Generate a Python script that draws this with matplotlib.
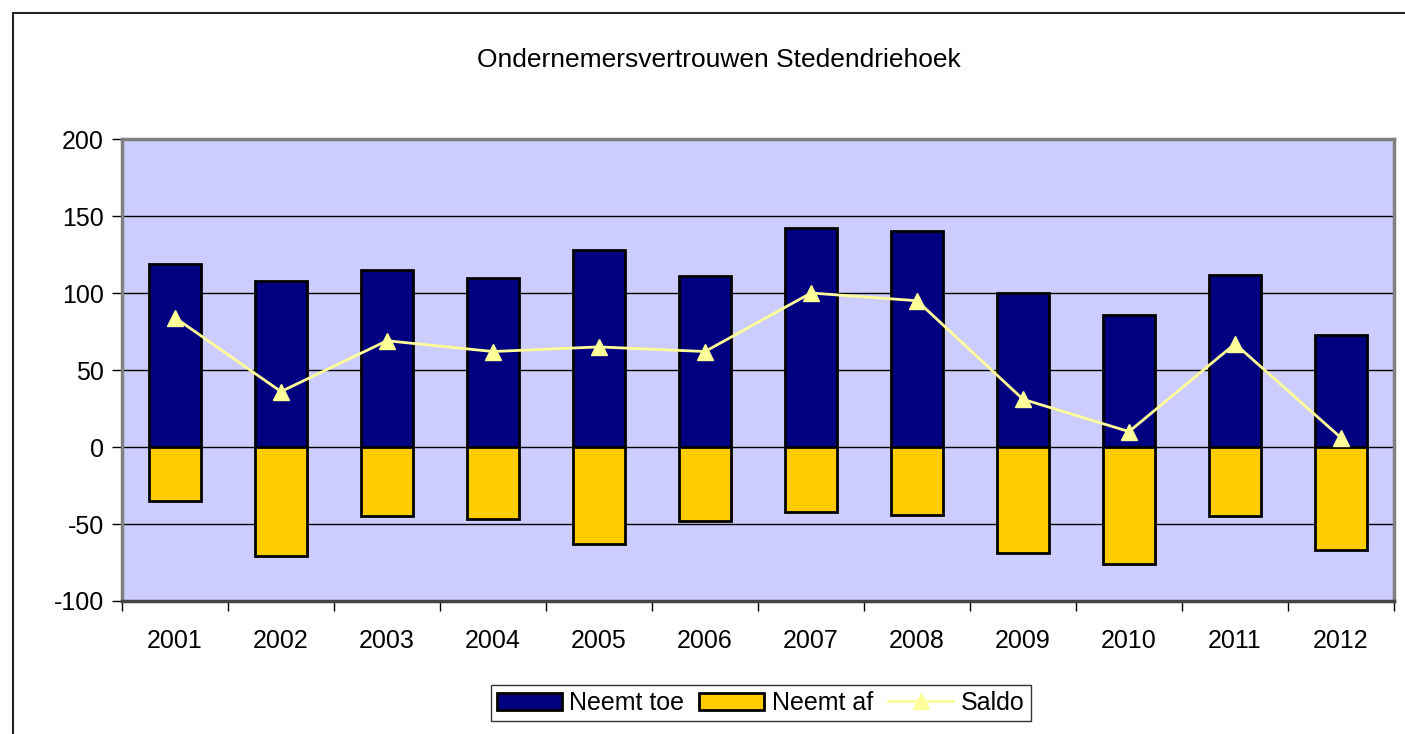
import matplotlib.pyplot as plt
import numpy as np
from matplotlib.patches import Rectangle

plt.rcParams['font.family'] = ['Liberation Sans', 'DejaVu Sans']
plt.rcParams['axes.unicode_minus'] = False

# Ondernemersvertrouwen Stedendriehoek 2001-2012
jaren = ['2001', '2002', '2003', '2004', '2005', '2006',
         '2007', '2008', '2009', '2010', '2011', '2012']
neemt_toe = [119, 108, 115, 110, 128, 111, 142, 140, 100, 86, 112, 73]
neemt_af = [-35, -71, -45, -47, -63, -48, -42, -44, -69, -76, -45, -67]
saldo = [84, 36, 69, 62, 65, 62, 100, 95, 31, 10, 67, 6]

fig = plt.figure(figsize=(14.05, 7.34), dpi=100)
ax = fig.add_axes([0.0868, 0.1812, 0.9054, 0.6294])

# outer frame of the chart area
fig.patches.append(Rectangle((13 / 1405, -0.1), 1.2, 1 - 13 / 734 + 0.1,
                             transform=fig.transFigure, fill=False,
                             edgecolor='#222222', linewidth=1.5))

x = np.arange(len(jaren))
ax.set_facecolor('#CCCCFF')
b1 = ax.bar(x, neemt_toe, width=0.49, color='#000080', edgecolor='black',
            linewidth=2, label='Neemt toe', zorder=3)
b2 = ax.bar(x, neemt_af, width=0.49, color='#FFCC00', edgecolor='black',
            linewidth=2, label='Neemt af', zorder=3)
l1, = ax.plot(x, saldo, color='#FFFF99', linewidth=2, marker='^',
              markersize=11, label='Saldo', zorder=4)

ax.set_xlim(-0.5, len(jaren) - 0.5)
ax.set_ylim(-100, 200)
ax.set_yticks(range(-100, 201, 50))
ax.yaxis.grid(True, color='black', linewidth=1, zorder=1)
ax.set_axisbelow(True)

# category ticks between the years
ax.set_xticks(x)
ax.set_xticklabels(jaren)
ax.set_xticks(np.arange(-0.5, len(jaren), 1), minor=True)
ax.tick_params(axis='x', which='major', length=0, labelsize=18, pad=20)
ax.tick_params(axis='x', which='minor', length=7, width=1, color='black')
ax.tick_params(axis='y', length=7, width=1, labelsize=18, pad=6)

for s in ax.spines.values():
    s.set_color('#808080')
    s.set_linewidth(2.5)
ax.spines['bottom'].set_color('#444444')

fig.text(0.512, 0.918, 'Ondernemersvertrouwen Stedendriehoek', ha='center',
         va='center', fontsize=19)

leg = ax.legend([b1, b2, l1], ['Neemt toe', 'Neemt af', 'Saldo'],
                loc='center', bbox_to_anchor=(0.502, -0.221), ncol=3,
                fontsize=18, frameon=True, fancybox=False, edgecolor='black',
                handlelength=2.6, handletextpad=0.3, columnspacing=0.6,
                borderpad=0.25)
leg.get_frame().set_linewidth(1)

fig.savefig('out.png', dpi=100)
